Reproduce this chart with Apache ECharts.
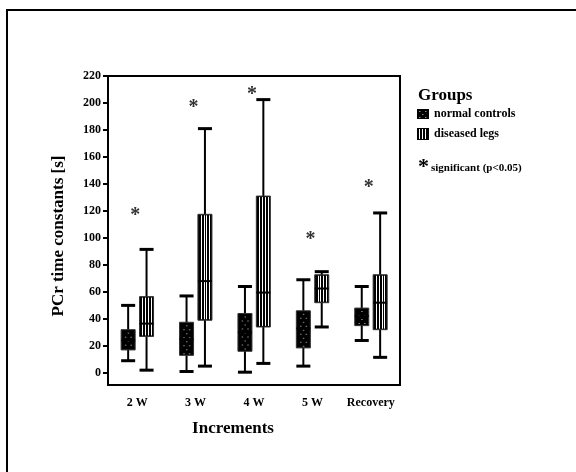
<!DOCTYPE html>
<html>
<head>
<meta charset="utf-8">
<script src="https://cdn.jsdelivr.net/npm/echarts@6/dist/echarts.min.js"></script>
<style>
html,body{margin:0;padding:0;background:#fff;}
#main{width:576px;height:472px;}
</style>
</head>
<body>
<div id="main"></div>
<script>
// categories
var increments = ['2 W', '3 W', '4 W', '5 W', 'Recovery'];
// [min, Q1, median, Q3, max]
var normalControls = [
    [9, 17, 24, 32, 50],
    [1, 13, 25, 37.5, 57],
    [0.5, 16, 30, 44, 64],
    [5, 18.5, 33, 46, 69],
    [24, 35, 42, 48, 64]
];
var diseasedLegs = [
    [2, 27, 36.5, 56.5, 91.5],
    [5, 39, 68, 117.5, 181],
    [7, 34, 59.5, 131, 202.5],
    [34, 52, 62.5, 72.7, 75],
    [11.5, 32, 52, 72.7, 118.5]
];
// where the * sits
var significant = [120, 200, 210, 102, 141];
var yTicks = [0, 20, 40, 60, 80, 100, 120, 140, 160, 180, 200, 220];

var serif = '"Liberation Serif", "Times New Roman", serif';

function toRows(list) {
    return list.map(function (d, i) { return [i].concat(d); });
}

// box with whiskers, pattern = 'dots' or 'stripes'
function makeBox(offset, pattern) {
    return function (params, api) {
        var cat = api.value(0);
        var band = api.size([1, 0])[0];
        var cx = api.coord([cat, 0])[0] + band * offset;
        var w = band * 0.24;
        var left = cx - w / 2;
        var yMin = api.coord([cat, api.value(1)])[1];
        var yQ1 = api.coord([cat, api.value(2)])[1];
        var yMed = api.coord([cat, api.value(3)])[1];
        var yQ3 = api.coord([cat, api.value(4)])[1];
        var yMax = api.coord([cat, api.value(5)])[1];
        var kids = [
            {type: 'line', shape: {x1: cx, y1: yMax, x2: cx, y2: yMin}, style: {stroke: '#000', lineWidth: 2}},
            {type: 'line', shape: {x1: left, y1: yMax, x2: left + w, y2: yMax}, style: {stroke: '#000', lineWidth: 3}},
            {type: 'line', shape: {x1: left, y1: yMin, x2: left + w, y2: yMin}, style: {stroke: '#000', lineWidth: 3}},
            {type: 'rect', shape: {x: left, y: yQ3, width: w, height: yQ1 - yQ3}, style: {fill: '#000', stroke: '#333', lineWidth: 1}}
        ];
        if (pattern == 'stripes') {
            for (var k = 1; k <= 4; k++) {
                var sx = Math.round(left + w * k / 5) + 0.5;
                kids.push({type: 'line', shape: {x1: sx, y1: yQ3 + 1, x2: sx, y2: yQ1 - 1}, style: {stroke: '#fff', lineWidth: 1}});
            }
        } else {
            var row = 0;
            for (var yy = yQ3 + 3; yy < yQ1 - 2; yy += 4) {
                var cols = row % 2 ? [0.3, 0.7] : [0.5];
                cols.forEach(function (c) {
                    kids.push({type: 'rect', shape: {x: left + w * c - 0.5, y: yy, width: 1.5, height: 1}, style: {fill: '#8a8a8a'}});
                });
                row++;
            }
        }
        kids.push({type: 'line', shape: {x1: left, y1: yMed, x2: left + w, y2: yMed}, style: {stroke: '#000', lineWidth: 2}});
        return {type: 'group', children: kids};
    };
}

var chart = echarts.init(document.getElementById('main'));

option = {
    backgroundColor: '#fff',
    animation: false,
    grid: {
        left: 108, top: 76, width: 292, height: 309,
        show: true, borderColor: '#000', borderWidth: 2,
        outerBoundsMode: 'none'
    },
    xAxis: {
        type: 'category',
        data: increments,
        axisLine: {onZero: false, lineStyle: {color: '#000', width: 2}},
        axisTick: {alignWithLabel: true, length: 6, lineStyle: {color: '#000', width: 2}},
        axisLabel: {interval: 0, margin: 12, color: '#000', fontFamily: serif, fontWeight: 'bold', fontSize: 12}
    },
    yAxis: {
        type: 'value',
        min: -9, max: 220,
        splitLine: {show: false},
        axisLine: {show: true, lineStyle: {color: '#000', width: 2}},
        axisTick: {show: true, length: 5, customValues: yTicks, lineStyle: {color: '#000', width: 2}},
        axisLabel: {margin: 7, customValues: yTicks, color: '#000', fontFamily: serif, fontWeight: 'bold', fontSize: 12}
    },
    series: [
        {
            name: 'normal controls', type: 'custom',
            renderItem: makeBox(-0.155, 'dots'),
            encode: {x: 0, y: [1, 2, 3, 4, 5]},
            data: toRows(normalControls)
        },
        {
            name: 'diseased legs', type: 'custom',
            renderItem: makeBox(0.16, 'stripes'),
            encode: {x: 0, y: [1, 2, 3, 4, 5]},
            data: toRows(diseasedLegs)
        },
        {
            name: 'significant', type: 'custom',
            renderItem: function (params, api) {
                var p = api.coord([api.value(0), api.value(1)]);
                return {type: 'text', x: p[0] - 2, y: p[1] + 5,
                    style: {text: '*', fill: '#333', font: 'bold 20px ' + serif, align: 'center', verticalAlign: 'middle'}};
            },
            data: significant.map(function (v, i) { return [i, v]; })
        }
    ],
    graphic: [
        // outer frame
        {type: 'rect', shape: {x: 7, y: 10, width: 620, height: 520}, style: {fill: null, stroke: '#000', lineWidth: 2}},
        {type: 'text', x: 233, y: 429, style: {text: 'Increments', font: 'bold 17px ' + serif, fill: '#000', align: 'center', verticalAlign: 'middle'}},
        {type: 'text', x: 59, y: 236, rotation: Math.PI / 2,
            style: {text: 'PCr time constants [s]', font: 'bold 17px ' + serif, fill: '#000', align: 'center', verticalAlign: 'middle'}},
        // legend
        {type: 'text', x: 418, y: 96, style: {text: 'Groups', font: 'bold 17px ' + serif, fill: '#000', verticalAlign: 'middle'}},
        {type: 'rect', shape: {x: 417, y: 109, width: 12, height: 10}, style: {fill: '#000'}},
        {type: 'rect', shape: {x: 419, y: 111, width: 1.5, height: 1}, style: {fill: '#8a8a8a'}},
        {type: 'rect', shape: {x: 425, y: 111, width: 1.5, height: 1}, style: {fill: '#8a8a8a'}},
        {type: 'rect', shape: {x: 422, y: 114, width: 1.5, height: 1}, style: {fill: '#8a8a8a'}},
        {type: 'rect', shape: {x: 419, y: 117, width: 1.5, height: 1}, style: {fill: '#8a8a8a'}},
        {type: 'rect', shape: {x: 425, y: 117, width: 1.5, height: 1}, style: {fill: '#8a8a8a'}},
        {type: 'text', x: 434, y: 114, style: {text: 'normal controls', font: 'bold 12px ' + serif, fill: '#000', verticalAlign: 'middle'}},
        {type: 'rect', shape: {x: 417, y: 128, width: 12, height: 12}, style: {fill: '#000'}},
        {type: 'line', shape: {x1: 419.5, y1: 129, x2: 419.5, y2: 139}, style: {stroke: '#fff', lineWidth: 1}},
        {type: 'line', shape: {x1: 422.5, y1: 129, x2: 422.5, y2: 139}, style: {stroke: '#fff', lineWidth: 1}},
        {type: 'line', shape: {x1: 425.5, y1: 129, x2: 425.5, y2: 139}, style: {stroke: '#fff', lineWidth: 1}},
        {type: 'text', x: 434, y: 134, style: {text: 'diseased legs', font: 'bold 12px ' + serif, fill: '#000', verticalAlign: 'middle'}},
        {type: 'text', x: 418, y: 167, style: {text: '*', font: 'bold 22px ' + serif, fill: '#000', verticalAlign: 'middle'}},
        {type: 'text', x: 431, y: 168, style: {text: 'significant (p<0.05)', font: 'bold 11px ' + serif, fill: '#000', verticalAlign: 'middle'}}
    ]
};
chart.setOption(option);
</script>
</body>
</html>
